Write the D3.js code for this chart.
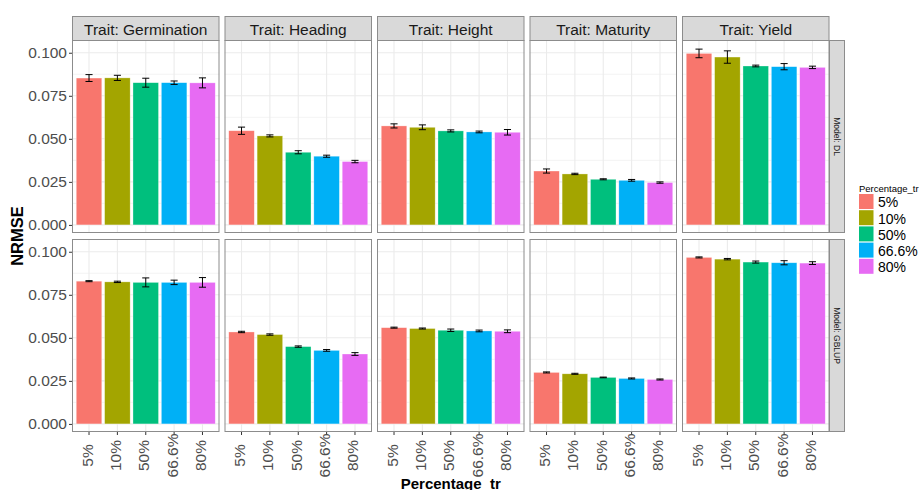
<!DOCTYPE html>
<html>
<head>
<meta charset="utf-8">
<script src="https://cdn.jsdelivr.net/npm/d3@7"></script>
<style>
  html, body { margin: 0; padding: 0; background: #ffffff; }
  svg { display: block; font-family: "Liberation Sans", Arial, sans-serif; }
</style>
</head>
<body>
<svg id="chart" width="919" height="490"></svg>
<script>
// ---------------- data ----------------
const traits = ["Germination", "Heading", "Height", "Maturity", "Yield"];
const models = ["DL", "GBLUP"];
const percentages = ["5%", "10%", "50%", "66.6%", "80%"];
const yTicks = [0, 0.025, 0.05, 0.075, 0.1];
const yMinorTicks = [0.0125, 0.0375, 0.0625, 0.0875];
const colors = ["#F8766D", "#A3A500", "#00BF7D", "#00B0F6", "#E76BF3"];

// rows: traits; columns: percentages
const dlMeans = [
  [0.0853, 0.0854, 0.0826, 0.0826, 0.0825],
  [0.0547, 0.0517, 0.0422, 0.0399, 0.0368],
  [0.0575, 0.0567, 0.0546, 0.0540, 0.0538],
  [0.0313, 0.0296, 0.0265, 0.0259, 0.0246],
  [0.0996, 0.0975, 0.0923, 0.0919, 0.0915]
];
const dlErrors = [
  [0.0020, 0.0015, 0.0026, 0.0010, 0.0029],
  [0.0021, 0.0006, 0.0009, 0.0006, 0.0007],
  [0.0012, 0.0014, 0.0006, 0.0005, 0.0016],
  [0.0012, 0.0004, 0.0003, 0.0005, 0.0004],
  [0.0025, 0.0036, 0.0005, 0.0018, 0.0007]
];
const gblupMeans = [
  [0.0829, 0.0825, 0.0822, 0.0822, 0.0822],
  [0.0534, 0.0519, 0.0449, 0.0427, 0.0406],
  [0.0559, 0.0554, 0.0544, 0.0540, 0.0538],
  [0.0299, 0.0291, 0.0270, 0.0264, 0.0258],
  [0.0967, 0.0957, 0.0940, 0.0936, 0.0934]
];
const gblupErrors = [
  [0.0003, 0.0004, 0.0026, 0.0013, 0.0028],
  [0.0004, 0.0004, 0.0004, 0.0005, 0.0008],
  [0.0003, 0.0003, 0.0007, 0.0005, 0.0008],
  [0.0003, 0.0003, 0.0002, 0.0003, 0.0003],
  [0.0003, 0.0004, 0.0006, 0.0012, 0.0008]
];

// ---------------- layout ----------------
const svg = d3.select("#chart");
const panelLeft = 72, panelW = 147.5, colGap = 5;
const rowTops = [40, 239], panelH = 193;
const stripTop = 16, stripH = 24;
const rightStripW = 15;
const gridColor = "#ebebeb";
const borderColor = "#8c8c8c";
const axisTextColor = "#4d4d4d";

const y = d3.scaleLinear().domain([-0.0047, 0.1074]).range([panelH, 0]);
const x = d3.scaleBand().domain(percentages).range([0, panelW])
  .paddingInner(0.1).paddingOuter(0.15);
const color = d3.scaleOrdinal().domain(percentages).range(colors);

const meansByModel = { DL: dlMeans, GBLUP: gblupMeans };
const errorsByModel = { DL: dlErrors, GBLUP: gblupErrors };

models.forEach((model, r) => {
  traits.forEach((trait, c) => {
    const px = panelLeft + c * (panelW + colGap);
    const py = rowTops[r];
    const g = svg.append("g").attr("transform", `translate(${px},${py})`);

    // background
    g.append("rect").attr("width", panelW).attr("height", panelH).attr("fill", "#fff");

    // minor grid
    g.selectAll(".minor").data(yMinorTicks).join("line")
      .attr("x1", 0).attr("x2", panelW)
      .attr("y1", d => y(d)).attr("y2", d => y(d))
      .attr("stroke", gridColor).attr("stroke-width", 0.6);
    // major grid horizontal
    g.selectAll(".majorh").data(yTicks).join("line")
      .attr("x1", 0).attr("x2", panelW)
      .attr("y1", d => y(d)).attr("y2", d => y(d))
      .attr("stroke", gridColor).attr("stroke-width", 1.1);
    // major grid vertical
    g.selectAll(".majorv").data(percentages).join("line")
      .attr("x1", d => x(d) + x.bandwidth() / 2).attr("x2", d => x(d) + x.bandwidth() / 2)
      .attr("y1", 0).attr("y2", panelH)
      .attr("stroke", gridColor).attr("stroke-width", 1.1);

    const rows = percentages.map((p, i) => ({
      p, v: meansByModel[model][c][i], e: errorsByModel[model][c][i]
    }));

    // bars
    g.selectAll(".bar").data(rows).join("rect")
      .attr("x", d => x(d.p)).attr("width", x.bandwidth())
      .attr("y", d => y(d.v)).attr("height", d => y(0) - y(d.v))
      .attr("fill", d => color(d.p))
      .attr("stroke", "#ffffff").attr("stroke-opacity", 0.5).attr("stroke-width", 0.6);

    // error bars
    const capW = x.step() * 0.25;
    const eb = g.selectAll(".eb").data(rows).join("g")
      .attr("transform", d => `translate(${x(d.p) + x.bandwidth() / 2},0)`);
    eb.append("line").attr("x1", 0).attr("x2", 0)
      .attr("y1", d => y(d.v - d.e)).attr("y2", d => y(d.v + d.e))
      .attr("stroke", "#000").attr("stroke-width", 1);
    eb.append("line").attr("x1", -capW / 2).attr("x2", capW / 2)
      .attr("y1", d => y(d.v - d.e)).attr("y2", d => y(d.v - d.e))
      .attr("stroke", "#000").attr("stroke-width", 1);
    eb.append("line").attr("x1", -capW / 2).attr("x2", capW / 2)
      .attr("y1", d => y(d.v + d.e)).attr("y2", d => y(d.v + d.e))
      .attr("stroke", "#000").attr("stroke-width", 1);

    // border
    g.append("rect").attr("x", 0.5).attr("y", 0.5)
      .attr("width", panelW - 1).attr("height", panelH - 1)
      .attr("fill", "none").attr("stroke", borderColor).attr("stroke-width", 1);

    // y axis (left column)
    if (c === 0) {
      const ya = d3.axisLeft(y).tickValues(yTicks).tickFormat(d3.format(".3f"))
        .tickSize(3).tickPadding(2);
      const ag = g.append("g").call(ya);
      ag.select(".domain").remove();
      ag.selectAll("line").attr("stroke", "#333");
      ag.selectAll("text").attr("fill", axisTextColor)
        .style("font-size", "15.5px").style("font-family", "Liberation Sans, Arial, sans-serif");
    }
    // x axis (bottom row)
    if (r === models.length - 1) {
      const xa = d3.axisBottom(x).tickSize(3).tickPadding(2);
      const ag = g.append("g").attr("transform", `translate(0,${panelH})`).call(xa);
      ag.select(".domain").remove();
      ag.selectAll("line").attr("stroke", "#333");
      ag.selectAll("text")
        .attr("fill", axisTextColor)
        .style("font-size", "15.5px").style("font-family", "Liberation Sans, Arial, sans-serif")
        .attr("text-anchor", "middle")
        .attr("dy", null).attr("y", null)
        .attr("dominant-baseline", "central")
        .attr("transform", "translate(-2,23.5) rotate(-90)");
    }
    // top strip
    if (r === 0) {
      const sg = svg.append("g").attr("transform", `translate(${px},${stripTop})`);
      sg.append("rect").attr("x", 0.5).attr("y", 0.5)
        .attr("width", panelW - 1).attr("height", stripH)
        .attr("fill", "#d9d9d9").attr("stroke", borderColor).attr("stroke-width", 1);
      sg.append("text").attr("x", panelW / 2).attr("y", stripH / 2 + 1)
        .attr("text-anchor", "middle").attr("dominant-baseline", "central")
        .attr("fill", "#1a1a1a").style("font-size", "15.5px")
        .text("Trait: " + trait);
    }
    // right strip
    if (c === traits.length - 1) {
      const rx = px + panelW;
      const rg = svg.append("g").attr("transform", `translate(${rx},${py})`);
      rg.append("rect").attr("x", 0).attr("y", 0.5)
        .attr("width", rightStripW).attr("height", panelH - 1)
        .attr("fill", "#d9d9d9").attr("stroke", borderColor).attr("stroke-width", 1);
      rg.append("text")
        .attr("transform", `translate(${rightStripW / 2},${panelH / 2}) rotate(90)`)
        .attr("text-anchor", "middle").attr("dominant-baseline", "central")
        .attr("fill", "#1a1a1a").style("font-size", "8.5px")
        .text("Model: " + model);
    }
  });
});

// axis titles
svg.append("text")
  .attr("transform", "translate(23,236) rotate(-90)")
  .attr("text-anchor", "middle")
  .attr("font-weight", "bold").style("font-size", "16.5px").attr("fill", "#000")
  .text("NRMSE");
svg.append("text")
  .attr("x", panelLeft + (5 * panelW + 4 * colGap) / 2).attr("y", 489)
  .attr("text-anchor", "middle")
  .attr("font-weight", "bold").style("font-size", "15px").attr("fill", "#000")
  .text("Percentage_tr");

// legend
const lg = svg.append("g").attr("transform", "translate(859,0)");
lg.append("text").attr("x", 0).attr("y", 188.5).attr("dominant-baseline", "central")
  .style("font-size", "9.5px").attr("fill", "#000").text("Percentage_tr");
const keyStep = 16.2, keyTop = 194;
lg.selectAll(".key").data(percentages).join("rect")
  .attr("x", 0).attr("y", (d, i) => keyTop + i * keyStep)
  .attr("width", 14.5).attr("height", 15)
  .attr("fill", d => color(d));
lg.selectAll(".klab").data(percentages).join("text")
  .attr("x", 19).attr("y", (d, i) => keyTop + i * keyStep + 8.3)
  .attr("dominant-baseline", "central")
  .style("font-size", "14px").attr("fill", "#000")
  .text(d => d);
</script>
</body>
</html>
